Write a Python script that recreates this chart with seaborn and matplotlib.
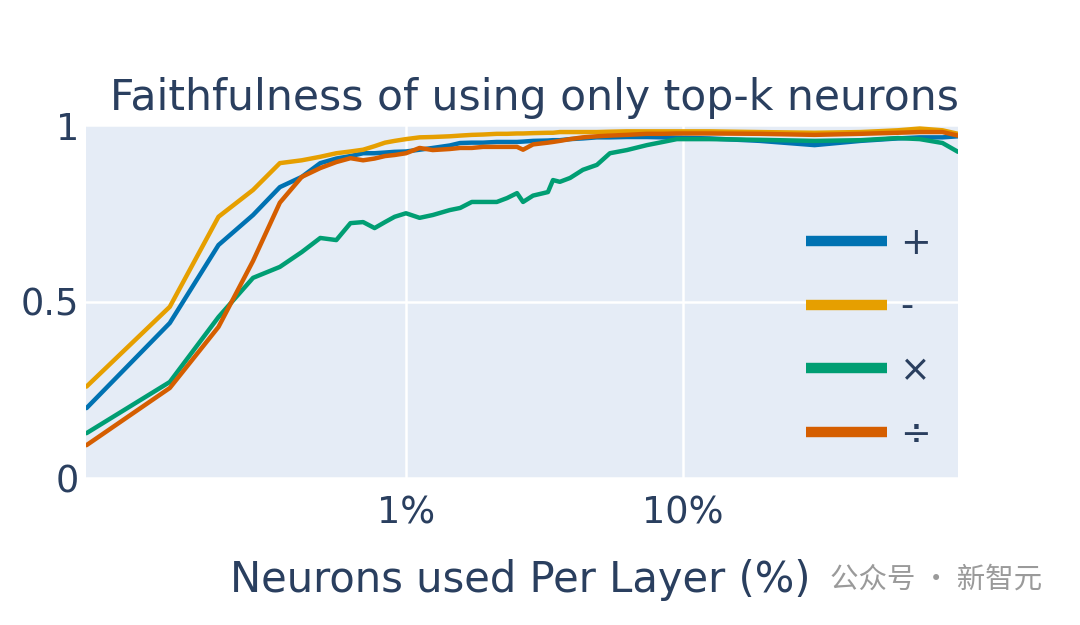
import numpy as np
import pandas as pd
import matplotlib
matplotlib.use("Agg")
import matplotlib.pyplot as plt
import seaborn as sns

# ---- data (x in % of neurons per layer) ----
pct = [0.07, 0.14, 0.21, 0.28, 0.35, 0.42, 0.49, 0.56, 0.63, 0.70, 0.77, 0.84, 0.91,
       1.0, 1.12, 1.25, 1.44, 1.57, 1.73, 1.9, 2.13, 2.32, 2.52, 2.65, 2.88, 3.26,
       3.4, 3.6, 3.92, 4.36, 4.9, 5.46, 6.29, 7.43, 8.49, 9.53, 12.5, 19, 30, 44,
       60, 72, 87, 99]

add_vals = [0.198, 0.439, 0.66, 0.745, 0.824, 0.853, 0.892, 0.905, 0.912, 0.92, 0.92,
            0.922, 0.924, 0.925, 0.93, 0.935, 0.942, 0.949, 0.95, 0.95, 0.952, 0.952,
            0.952, 0.953, 0.955, 0.956, 0.957, 0.957, 0.96, 0.962, 0.965, 0.965, 0.966,
            0.966, 0.965, 0.964, 0.962, 0.955, 0.943, 0.955, 0.962, 0.965, 0.965, 0.968]

sub_vals = [0.259, 0.485, 0.74, 0.816, 0.892, 0.90, 0.91, 0.92, 0.925, 0.93, 0.94,
            0.95, 0.955, 0.96, 0.965, 0.966, 0.968, 0.97, 0.972, 0.973, 0.975, 0.975,
            0.976, 0.976, 0.977, 0.978, 0.978, 0.98, 0.98, 0.98, 0.98, 0.981, 0.982,
            0.982, 0.982, 0.982, 0.982, 0.98, 0.978, 0.98, 0.985, 0.99, 0.985, 0.975]

mul_vals = [0.127, 0.272, 0.456, 0.567, 0.598, 0.64, 0.68, 0.674, 0.722, 0.725, 0.708,
            0.725, 0.74, 0.75, 0.737, 0.745, 0.759, 0.765, 0.782, 0.782, 0.782, 0.793,
            0.807, 0.782, 0.80, 0.81, 0.844, 0.839, 0.85, 0.873, 0.887, 0.92, 0.929,
            0.943, 0.952, 0.96, 0.96, 0.958, 0.955, 0.957, 0.963, 0.96, 0.949, 0.924]

div_vals = [0.093, 0.255, 0.428, 0.615, 0.78, 0.853, 0.878, 0.895, 0.906, 0.90, 0.905,
            0.912, 0.915, 0.92, 0.935, 0.929, 0.932, 0.935, 0.935, 0.938, 0.938, 0.938,
            0.938, 0.93, 0.945, 0.95, 0.952, 0.955, 0.96, 0.965, 0.968, 0.97, 0.972,
            0.975, 0.975, 0.976, 0.976, 0.975, 0.972, 0.975, 0.978, 0.98, 0.98, 0.97]

ops = ["+", "-", "×", "÷"]
op_colors = ["#0072B2", "#E69F00", "#009E73", "#D55E00"]

xtick_vals = [1, 10]
xtick_labels = ["1%", "10%"]
ytick_vals = [0, 0.5, 1]
ytick_labels = ["0", "0.5", "1"]

df = pd.concat([
    pd.DataFrame({"pct": pct, "faith": vals, "op": op})
    for op, vals in zip(ops, [add_vals, sub_vals, mul_vals, div_vals])
], ignore_index=True)

# ---- styling (plotly-like) ----
sns.set_theme(style="darkgrid")
plt.rcParams["font.family"] = ["DejaVu Sans", "Noto Sans CJK SC"]
text_col = "#2a3f5f"

fig = plt.figure(figsize=(10.8, 6.25), dpi=100)
ax = fig.add_axes([86 / 1080, 1 - 478 / 625, 872 / 1080, 353 / 625])
ax.set_facecolor("#E5ECF6")

sns.lineplot(data=df, x="pct", y="faith", hue="op", hue_order=ops,
             palette=op_colors, linewidth=3.2, ax=ax, legend=True)

ax.set_xscale("log")
ax.set_xlim(0.0697, 99)
ax.set_ylim(0, 1)
ax.set_xticks(xtick_vals)
ax.set_xticklabels(xtick_labels)
ax.xaxis.set_minor_locator(matplotlib.ticker.NullLocator())
ax.set_yticks(ytick_vals)
ax.set_yticklabels(ytick_labels)
ax.grid(True, color="white", linewidth=1.8)
ax.tick_params(axis="both", length=0, labelsize=26.5, labelcolor=text_col)
ax.tick_params(axis="x", pad=12)
ax.tick_params(axis="y", pad=5)
for s in ax.spines.values():
    s.set_visible(False)
ax.set_xlabel("")
ax.set_ylabel("")

leg = ax.legend(loc="center left", bbox_to_anchor=(0.826, 0.394), frameon=False,
                fontsize=26.5, handlelength=2.2, handletextpad=0.35,
                labelspacing=0.73, borderpad=0, borderaxespad=0)
for line in leg.get_lines():
    line.set_linewidth(7.5)
    line.set_solid_capstyle("butt")
for t in leg.get_texts():
    t.set_color(text_col)

fig.text(535 / 1080, 1 - 98 / 625, "Faithfulness of using only top-k neurons",
         ha="center", va="center", fontsize=30.6, color=text_col)
fig.text(520 / 1080, 1 - 580 / 625, "Neurons used Per Layer (%)",
         ha="center", va="center", fontsize=30, color=text_col)

# watermark
fig.text(830 / 1080, 1 - 580 / 625, "公众号 · 新智元", ha="left", va="center",
         fontsize=20.5, color="#9a9a9a", family=["Noto Sans CJK SC", "DejaVu Sans"])

fig.savefig("out.png", dpi=100, facecolor="white")
